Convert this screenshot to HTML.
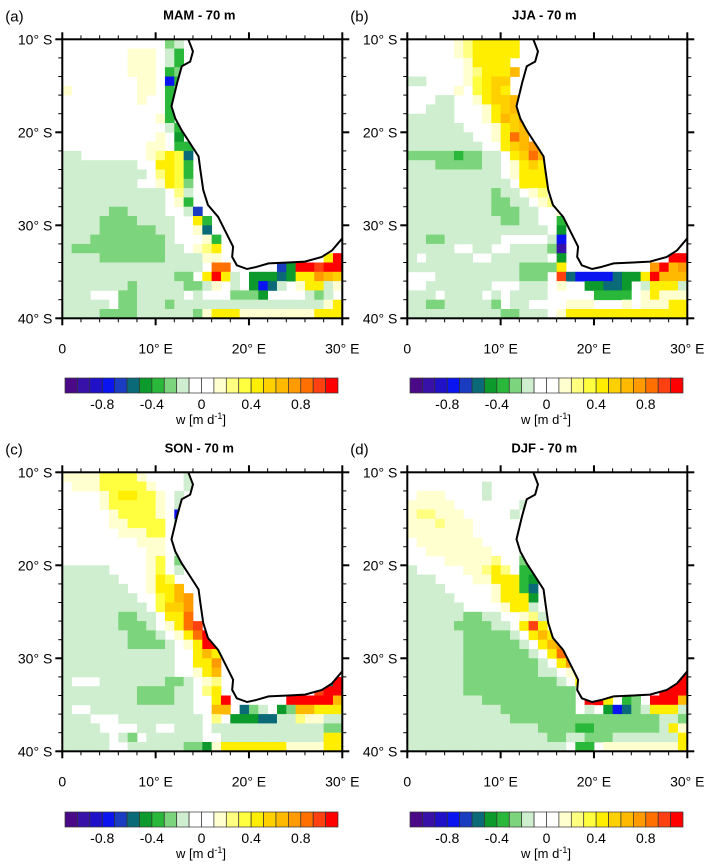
<!DOCTYPE html>
<html><head><meta charset="utf-8">
<style>
body{margin:0;background:#fff;width:713px;height:865px;overflow:hidden;font-family:"Liberation Sans",sans-serif}
svg{position:absolute;left:0;top:0}
</style></head>
<body>
<svg id="fig" width="713" height="865"></svg>
<script>
// Level codes -> w value (m/d)
const codes = ['h','g','f','e','d','c','b','a','.','y','Y','z','Z','o','O','p','q','r','R'];
const codeValues = [-0.95,-0.75,-0.65,-0.55,-0.45,-0.35,-0.25,-0.15,0,0.15,0.25,0.35,0.45,0.55,0.65,0.75,0.85,0.95,1.05];
const levelColors = ['#4a0a88','#3812a8','#2010c8','#0a14f0','#1a3cc0','#0a6a78','#0c9a2c','#2ab83a','#7cd47c','#cfeecf','#ffffff','#ffffff','#ffffd0','#ffff80','#ffff40','#ffee00','#ffd000','#ffba00','#ff9a00','#ff7000','#ff4010','#ff0000'];
const cbLabels = ['-0.8','-0.4','0','0.4','0.8'];
const cbLabelIdx = [3,7,11,15,19];
const lonTicks = [0,10,20,30];
const latTicks = [10,20,30,40];
const titles = ['MAM - 70 m','JJA - 70 m','SON - 70 m','DJF - 70 m'];
const letters = ['(a)','(b)','(c)','(d)'];
// coastline lon/lat (lat south positive)
const coastLon = [13.5,14.0,13.7,12.8,12.3,11.7,12.1,12.8,13.9,14.6,14.8,15.1,15.6,16.7,17.4,18.3,18.2,18.7,19.8,20.7,22.1,24.2,26.0,27.8,28.9,30.0];
const coastLat = [10.0,11.3,12.4,12.9,14.7,17.2,18.5,19.8,21.5,22.6,24.1,26.2,27.8,29.1,30.5,32.3,33.4,34.3,34.7,34.5,34.1,34.0,33.9,33.4,32.7,31.4];
// grids: rows = 10..40 S (1 deg), cols = 0..30 E
const gridMAM = [
"...........ba.................",
".......yyy.ac.................",
".......yyy.ac.................",
".......yyy.cb.................",
"........yy.gc.................",
"y.......yy.c..................",
"........y..c..................",
"...........c..................",
"..........yc..................",
"...........ac.................",
"..........y.d.................",
".........yy.cc................",
"aa.......yYZze................",
"aaaaaaaa..ZZzc................",
"aaaaaaaaa.YZzc................",
"aaaaaaaa..yZzb................",
"aaaaaaaaaaa.Ya................",
"aaaaaaaaaaa.yc................",
"aaaaabbaaaa..af...............",
"aaaabbbbaaaa..Zc..............",
"aaaabbbbbbaa..ye..............",
"aaabbbbbbbba...yc.............",
"abbbbbbbbbbaa.yYZ.............",
"aaaabbbbbbbaaaayy...........ZR",
"aaaaaaaaaaaaaaa.qq.....fdRRrRR",
"aaaaaaaaaaaabb.ZRZa.dddedZZpOo",
"aaaaaaabaaaaabbay.a.dgea.yZZay",
"aaa...bbaaaaa.a...bbbd....aba.",
"aaaaa.bbaaabaaaaaaaaaaaaaaaayZ",
"aaaabbbbaaaaaabyZZZyyyyyyyyZZZ"];
const gridJJA = [
".....yYZZZZZ..................",
".....yYZZZZZ..................",
"......yZZZZ...................",
"......yYZZZO..................",
"aa....yzZoo...................",
".....y.zZoZ...................",
"...aa..yZooO..................",
"..aaa...yZoOq.................",
"aaaaa...yZOop.................",
"aaaaaa...yZoO.................",
"aaaaaaa..yZqO.................",
"aaaaaaaa..ZoOp................",
"bbbbbcbbaa.ZoqO...............",
"aaabbbbbaa.yZoZ...............",
"aaaaaaaaaa.yZZZ...............",
"aaaaaaaaaaa.ZZZ...............",
"aaaaaaaaabaa.yY...............",
"aaaaaaaaabbaa.yY..............",
"aaaaaaaaabbbaa..yy............",
"aaaaaaaaaabbaa..c.............",
"aaaaaaaaaaaaaaa.d.............",
"aabbaaaaaa.....ag.............",
"aaaaa..aa..aaaabh.............",
"a.aaaaa..aaaaaa.d...........RR",
"aaaaaaaaaaaabbbbZ.........pROp",
"...aaaaaaaaabbb.reggggeddZROOO",
"..aaaaaaa...aaa.y..ddeed.aZZZa",
"aaa.aaaa.a.aaaa.....cccc.yZyyy",
"aabbaaaaab.aa....yyy...y.yyyZZ",
"aaaaaaaaaabbaaa.yZZZZZZZZZZZZZ"];
const gridSON = [
"yyyyzzzzy....a................",
".yyyzzzzzy...a................",
"....yzZZzzy.a.................",
"....yzzzzzy.a.................",
".....yzzzzy.g.................",
".....yyzzzz.b.................",
"......yyyzz.b.................",
"........yyy.a.................",
".........yy.a.................",
".........yz.ba................",
"aaaaa....yz.a.................",
"aaaaaa...yZz..................",
"aaaaaaa..yZZO.................",
"aaaaaaaa..zZOp................",
"aaaaaaaaa.zoop................",
"aaaaaabbaa.ZZq................",
"aaaaaabbba.yZqr...............",
"aaaaaaabbba.yZqR..............",
"aaaaaaabbbba.yZRR.............",
"aaaaaaaaaaaa..ZOZ.............",
"aaaaaaaaaaaa..ZZp.............",
"aaaaaaaaaaaa..yZO.............",
"a...aaaaaaabba.yY...........eR",
"aaaaaaaabbbbaa.YZ..........rRR",
"aaaaaaaabbbbaa..ZR......RRRRRO",
"a..aaaaaaaaaaa..OO.eba.dbOOZZZ",
"aaa...aaaaaaaaa.Y.dddeeaaYyyaa",
"aaaa....aa..aaa.aaaaaaaaaaaabb",
"aaaaa.ab.aaaaaa..aaaaaaaaaaaZZ",
"aaaaa..aaaaaabbdyZZZZZZZyyyyZZ"];
const gridDJF = [
"..............................",
"........a.....................",
".yyy....a.....................",
"yyyyy.......a.................",
"yYYyyy.....a..................",
"yyyYyyy.......................",
"yyyyyyy.....a.................",
".yyyyyyy....a.................",
"..yyyyyyy...a.................",
"....yyyyyY..b.................",
"a.....yyYZY.cc................",
"aaa....yyZZZcd................",
"aaaa.....yZZce................",
"aaaaa....yZZZd................",
"aaaaaa....yZZa................",
"aaaaaabbaa..yYa...............",
"aaaaabbbbaa.ZrZ...............",
"aaaaaabbbbba.ZOZ..............",
"aaaaaabbbbbba.ZOp.............",
"aaaaaabbbbbbba.ZqO............",
"aaaaaabbbbbbbba.ZpZ...........",
"aaaaaabbbbbbbbaa.yO.........ZR",
"aaaaaabbbbbbbbbba.Z........RRR",
"aaaaaabbbbbbbbbbbb.RR......RRR",
"aaaaaaaabbbbbbbbbb.RRZ.cb.RRRO",
"aaaaaaaaaabbbbbbbb.a.dgebaZZZa",
"aaaaaaaaaaabbbbbbbbbbbbbbbbaab",
"aaaaaaaaaaaaaabbbbccbbbbbbbaZy",
"aaaaaaaaaaaaaaabbaabbbaaaaaaaZ",
"aaaaaaaaaaaaaaaaa.cc.yyyyyyyyZ"];
const grids = [gridMAM, gridJJA, gridSON, gridDJF];

const NS='http://www.w3.org/2000/svg';
const svg=document.getElementById('fig');
function mk(tag,attrs,parent){const e=document.createElementNS(NS,tag);for(const k in attrs)e.setAttribute(k,attrs[k]);(parent||svg).appendChild(e);return e;}
function colorFor(v){let i=Math.floor((v+1.1)/0.1);if(i<0)i=0;if(i>21)i=21;return levelColors[i];}

const panels=[{x:62.3,y:39.3},{x:407.3,y:39.3},{x:62.3,y:472.3},{x:407.3,y:472.3}];
const PW=280, PH=279;

panels.forEach((p,pi)=>{
  const g=mk('g',{});
  
  
  const xs=lon=>p.x+lon/30*PW;
  const ys=lat=>p.y+(lat-10)/30*PH;
  const grid=grids[pi];
  for(let r=0;r<30;r++){
    for(let c=0;c<30;c++){
      const ch=(grid[r]||'')[c]||'.';
      const v=codeValues[codes.indexOf(ch)]||0;
      const col=colorFor(v);
      if(col==='#ffffff')continue;
      const cell=mk('rect',{x:xs(c),y:ys(10+r),width:PW/30+0.4,height:PH/30+0.4,fill:col},g);
      
      
    }
  }
  // land mask
  let d='M'+xs(coastLon[0])+','+ys(coastLat[0]);
  for(let i=1;i<coastLon.length;i++)d+=' L'+xs(coastLon[i])+','+ys(coastLat[i]);
  const land=mk('path',{d:d+' L'+xs(30)+','+ys(10)+' Z',fill:'#fff'},g);
  
  
  const coast=mk('path',{d:d,fill:'none',stroke:'#000','stroke-width':2},g);
  
  
  const fr=mk('rect',{x:p.x,y:p.y,width:PW,height:PH,fill:'none',stroke:'#000','stroke-width':2},g);
  
  
  // ticks
  for(let t=0;t<=30;t+=2){
    const major=t%10===0, L=major?7:4;
    mk('line',{x1:xs(t),x2:xs(t),y1:p.y+PH,y2:p.y+PH+L,stroke:'#000','stroke-width':major?2:1},g);
    mk('line',{x1:xs(t),x2:xs(t),y1:p.y,y2:p.y-L,stroke:'#000','stroke-width':major?2:1},g);
    mk('line',{x1:p.x,x2:p.x-L,y1:ys(10+t),y2:ys(10+t),stroke:'#000','stroke-width':major?2:1},g);
    mk('line',{x1:p.x+PW,x2:p.x+PW+L,y1:ys(10+t),y2:ys(10+t),stroke:'#000','stroke-width':major?2:1},g);
  }
  lonTicks.forEach(t=>{
    const tx=mk('text',{x:xs(t),y:p.y+PH+35,'font-size':14,'text-anchor':'middle'},g);
    tx.textContent=t===0?'0':t+'° E';
    
    
  });
  latTicks.forEach(t=>{
    const tx=mk('text',{x:p.x-10,y:ys(t)+5,'font-size':14,'text-anchor':'end'},g);
    tx.textContent=t+'° S';
    
    
  });
  const lt=mk('text',{x:p.x-57,y:p.y-18,'font-size':15},g);
  lt.textContent=letters[pi];
  
  
  const tt=mk('text',{x:p.x+PW/2-3,y:p.y-20,'font-size':13,'font-weight':'bold','text-anchor':'middle'},g);
  tt.textContent=titles[pi];
  
  
});

// colorbars
const cbs=[{x:65,y:378},{x:410,y:378},{x:65,y:812},{x:410,y:812}];
cbs.forEach((cb,ci)=>{
  const g=mk('g',{});
  
  
  const bw=273/22;
  levelColors.forEach((c,i)=>{
    const b=mk('rect',{x:cb.x+i*bw,y:cb.y,width:bw,height:15,fill:c,stroke:'#333','stroke-width':0.7},g);
    
    
  });
  cbLabels.forEach((l,i)=>{
    const t=mk('text',{x:cb.x+cbLabelIdx[i]*bw,y:cb.y+31,'font-size':14,'text-anchor':'middle'},g);
    t.textContent=l;
    
    
  });
  const t=mk('text',{x:cb.x+136,y:cb.y+46,'font-size':13,'text-anchor':'middle'},g);
  t.innerHTML='w [m d<tspan dy="-5" font-size="9">-1</tspan><tspan dy="5">]</tspan>';
  
  
});
</script>
</body></html>
